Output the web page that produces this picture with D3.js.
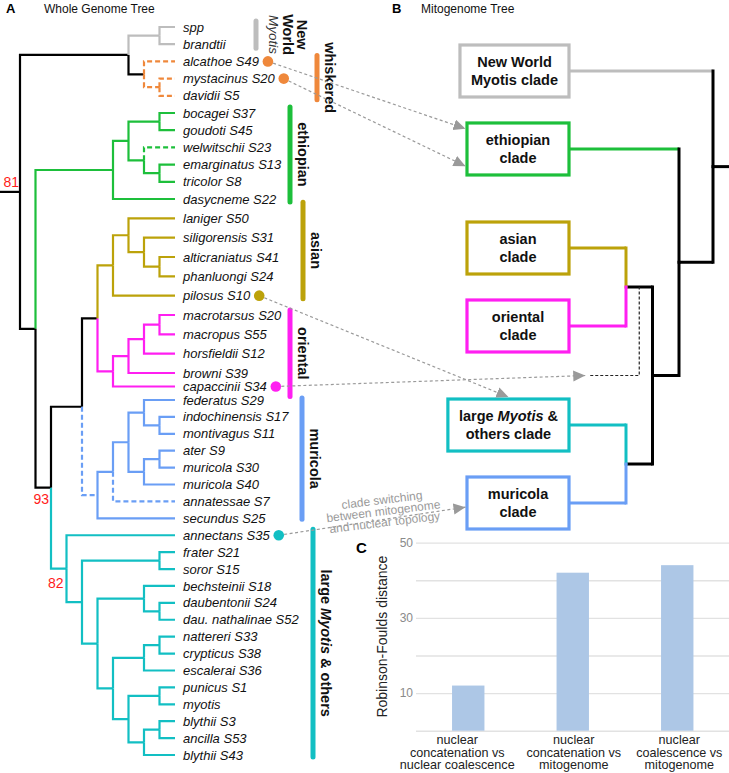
<!DOCTYPE html>
<html><head><meta charset="utf-8">
<script src="https://cdn.jsdelivr.net/npm/d3@7"></script>
<style>
html,body{margin:0;padding:0;background:#fff;}
svg{display:block;font-family:"Liberation Sans",Arial,Helvetica,sans-serif;}
</style></head><body>
<svg id="chart" width="729" height="773"></svg>
<script>
// ================= DATA =================
// Panel A: whole genome tree topology (internal labels mark clades / named nodes)
const wholeGenomeNewick =
 "(((spp,brandtii)NW,(alcathoe S49,(mystacinus S20,davidii S5))whiskered)nwwh," +
 "((((bocagei S37,goudoti S45),(welwitschii S23,(emarginatus S13,tricolor S8))),dasycneme S22)ethiopian," +
 "(((((laniger S50,(siligorensis S31,(alticraniatus S41,phanluongi S24))),pilosus S10)asian," +
 "((((macrotarsus S20,macropus S55),horsfieldii S12),browni S39),capaccinii S34)oriental)asor," +
 "((((federatus S29,(indochinensis S17,montivagus S11)),((ater S9,muricola S30),muricola S40)),annatessae S7),secundus S25)muricola)amo," +
 "(annectans S35,((frater S21,soror S15),((bechsteinii S18,(daubentonii S24,dau. nathalinae S52))," +
 "(((nattereri S33,crypticus S38),escalerai S36),((punicus S1,myotis),((blythii S3,ancilla S53),blythii S43))))))large)core)rest)root;";

const cladeNames   = ["NW","whiskered","ethiopian","asian","oriental","muricola","large"];
const cladeLabels  = [["New","World","*Myotis*"],["whiskered"],["ethiopian"],["asian"],["oriental"],["muricola"],["large *Myotis* & others"]];
const blackStems    = ["whiskered"];
const dashedSubtrees = ["whiskered"];
const dashedLinks    = ["welwitschii S23","muricola","annatessae S7"];
const supportNodes  = ["root","core","large"];
const supportValues = [81, 93, 82];

// Panel B: mitogenome tree
const mitoNewick = "(NW,(ethiopian,((asian,oriental)asor,(large,muricola)lm)core)rest)root;";
const mitoBoxLabels = {
  NW:["New World","Myotis clade"], ethiopian:["ethiopian","clade"], asian:["asian","clade"],
  oriental:["oriental","clade"], large:["large *Myotis* &","others clade"], muricola:["muricola","clade"]
};
const switchFrom = ["alcathoe S49","mystacinus S20","pilosus S10","capaccinii S34","annectans S35"];
const switchTo   = ["ethiopian","ethiopian","large","asor","muricola"];
const switchNote = ["clade switching","between mitogenome","and nuclear topology"];

// Panel C: Robinson-Foulds distances
const rfCategories = [["nuclear","concatenation vs","nuclear coalescence"],
                      ["nuclear","concatenation vs","mitogenome"],
                      ["nuclear","coalescence vs","mitogenome"]];
const rfValues = [12, 42, 44];
const rfGrid   = [0,10,20,30,40,50];
const rfTickLabels = [10,30,50];

// ================= STYLE / LAYOUT =================
const cladeColor = {NW:"#bdbdbd", whiskered:"#ef883b", ethiopian:"#1dbf3b", asian:"#bca20a",
  oriental:"#ff1ff1", muricola:"#6a9ef5", large:"#12bfc3"};
const barX   = {NW:256, whiskered:317, ethiopian:290, asian:303, oriental:290, muricola:302, large:313};
const barPad = {NW:[6,4], whiskered:[6,4], ethiopian:[6,3], asian:[16,3], oriental:[5,10], muricola:[2,1], large:[6,2]};
const labelOff = {NW:32};
const switchAt = [["left",0.11],["left",0.83],["top",0.5],["stem",0],["left",0.58]];
const supportOff = [[-1,-5],[-2,16],[-3,19]];
const rfLabelDx = [-11, 1, 2];

// ================= HELPERS =================
function parseNewick(s){
  let i=0;
  function node(){
    const n={name:""};
    if(s[i]==='('){
      n.children=[]; i++;
      n.children.push(node());
      while(s[i]===','){ i++; n.children.push(node()); }
      i++;
    }
    const st=i;
    while(i<s.length && !",();".includes(s[i])) i++;
    n.name=s.slice(st,i).trim();
    return n;
  }
  return node();
}
function richText(sel, str){
  str.split("*").forEach((part,k)=>{
    if(!part) return;
    sel.append("tspan").attr("font-style", k%2 ? "italic" : null).text(part);
  });
}

const svg = d3.select("#chart");
const defs = svg.append("defs");
defs.append("marker").attr("id","ahead").attr("markerUnits","userSpaceOnUse")
  .attr("markerWidth",13).attr("markerHeight",12).attr("refX",12).attr("refY",5.5).attr("orient","auto")
  .append("path").attr("d","M0,0L12,5.5L0,11Z").attr("fill","#9a9a9a");

// ================= PANEL A =================
const rootA = d3.hierarchy(parseNewick(wholeGenomeNewick), d=>d.children);
const leavesA = rootA.leaves();
const yLeafA = d3.scaleLinear().domain([0,10,19,21,42]).range([27,199,373,400,755]);
const xHeightA = d3.scaleLinear().domain([0,10]).range([175,20]);
leavesA.forEach((d,i)=>{ d.py = yLeafA(i); });
rootA.eachAfter(d=>{
  d.px = xHeightA(d.height);
  if(d.children) d.py = (d.children[0].py + d.children[d.children.length-1].py)/2;
});
const byName = new Map(); rootA.each(d=>byName.set(d.data.name,d));

function cladeOf(d){ for(let n=d;n;n=n.parent){ if(cladeColor[n.data.name]) return n.data.name; } return null; }
function linkColor(d){ if(blackStems.includes(d.data.name)) return "#000"; const c=cladeOf(d); return c?cladeColor[c]:"#000"; }
function linkDashed(d){
  if(dashedLinks.includes(d.data.name)) return true;
  return d.ancestors().slice(1).some(a=>dashedSubtrees.includes(a.data.name));
}

svg.append("text").attr("x",6).attr("y",13).attr("font-weight","bold").attr("font-size",13).text("A");
svg.append("text").attr("x",44).attr("y",13).attr("font-size",12).attr("fill","#111").text("Whole Genome Tree");

const gA = svg.append("g");
const linksA = rootA.descendants().slice(1);
gA.selectAll("path.link").data(linksA).join("path").attr("class","link")
  .attr("d",d=>`M${d.parent.px},${d.parent.py}V${d.py}H${d.px}`)
  .attr("fill","none").attr("stroke",linkColor).attr("stroke-width",2.2)
  .attr("stroke-dasharray",d=>linkDashed(d)?"5,3":null);
gA.append("line").attr("x1",0).attr("x2",rootA.px).attr("y1",rootA.py).attr("y2",rootA.py)
  .attr("stroke","#000").attr("stroke-width",2.2);

const leafText = gA.selectAll("text.leaf").data(leavesA).join("text").attr("class","leaf")
  .attr("x",183).attr("y",d=>d.py).attr("dy","0.35em").attr("font-size",13)
  .attr("font-style","italic").attr("fill","#111").text(d=>d.data.name);
leafText.each(function(d){ d.labelEnd = 183 + this.getComputedTextLength(); });

supportNodes.forEach((n,i)=>{
  const d=byName.get(n);
  gA.append("text").attr("x",d.px+supportOff[i][0]).attr("y",d.py+supportOff[i][1])
    .attr("text-anchor","end").attr("font-size",14).attr("fill","#ff1a1a").text(supportValues[i]);
});

// clade bars + rotated labels
cladeNames.forEach((c,i)=>{
  const lv = byName.get(c).leaves();
  const y0 = lv[0].py - barPad[c][0], y1 = lv[lv.length-1].py + barPad[c][1];
  gA.append("line").attr("x1",barX[c]).attr("x2",barX[c]).attr("y1",y0).attr("y2",y1)
    .attr("stroke",cladeColor[c]).attr("stroke-width",5).attr("stroke-linecap","round");
  const cx = barX[c] + (labelOff[c]||13), cy=(y0+y1)/2;
  const lines = cladeLabels[i];
  lines.forEach((ln,k)=>{
    const t = gA.append("text").attr("transform",`translate(${cx},${cy}) rotate(90)`)
      .attr("text-anchor","middle").attr("y",(k-(lines.length-1)/2)*14.3).attr("dy","0.35em")
      .attr("font-size",14.5).attr("font-weight","bold").attr("fill","#111");
    if(ln.startsWith("*") && lines.length>1){
      t.attr("font-weight","normal").attr("font-style","italic").attr("font-size",13.5).attr("fill","#333").text(ln.replace(/\*/g,""));
    } else richText(t, ln);
  });
});

// ================= PANEL B =================
svg.append("text").attr("x",392).attr("y",13).attr("font-weight","bold").attr("font-size",13).text("B");
svg.append("text").attr("x",421).attr("y",13).attr("font-size",12).attr("fill","#111").text("Mitogenome Tree");

const rootB = d3.hierarchy(parseNewick(mitoNewick), d=>d.children);
const leavesB = rootB.leaves();
const pairGap = 0.27;
const slotB = i => i + pairGap*Math.floor(i/2);
const yLeafB = d3.scaleLinear().domain([0, slotB(leavesB.length-1)]).range([71,503]);
const xHeightB = d3.scaleLinear().domain([0,1,3,4]).range([569,626,679,713]);
leavesB.forEach((d,i)=>{ d.py = yLeafB(slotB(i)); });
rootB.eachAfter(d=>{
  d.px = xHeightB(d.height);
  if(d.children) d.py = (d.children[0].py + d.children[d.children.length-1].py)/2;
});
const byNameB = new Map(); rootB.each(d=>byNameB.set(d.data.name,d));

const gB = svg.append("g");
rootB.descendants().slice(1).forEach(d=>{
  const col = d.children ? "#000" : cladeColor[d.data.name];
  const vcol = d.parent.height===1 ? col : "#000";
  gB.append("path").attr("d",`M${d.px},${d.py}H${d.parent.px}`).attr("stroke",col).attr("stroke-width",3).attr("fill","none");
  gB.append("path").attr("d",`M${d.parent.px},${d.py}V${d.parent.py}`).attr("stroke",vcol).attr("stroke-width",3)
    .attr("stroke-linecap","square").attr("fill","none");
});
gB.append("line").attr("x1",rootB.px).attr("x2",729).attr("y1",rootB.py).attr("y2",rootB.py).attr("stroke","#000").attr("stroke-width",3);

const boxH = 52;
leavesB.forEach(d=>{
  const g = gB.append("g");
  const lines = mitoBoxLabels[d.data.name];
  const texts = lines.map((ln,k)=>{
    const t = g.append("text").attr("text-anchor","middle").attr("y",d.py+(k-0.5)*17.5).attr("dy","0.35em")
      .attr("font-size",14.5).attr("font-weight","bold").attr("fill","#111");
    richText(t, ln); return t;
  });
  const w = Math.max(102, d3.max(texts,t=>t.node().getComputedTextLength()) + 22);
  const x0 = d.px - w;
  d.box = {x:x0, y:d.py-boxH/2, w:w, h:boxH};
  g.insert("rect","text").attr("x",x0).attr("y",d.py-boxH/2).attr("width",w).attr("height",boxH)
    .attr("fill","#fff").attr("stroke",cladeColor[d.data.name]).attr("stroke-width",3.2);
  texts.forEach(t=>t.attr("x",x0+w/2));
});

// ================= SWITCH ARROWS =================
const gArr = svg.append("g");
switchFrom.forEach((f,i)=>{
  const src = byName.get(f);
  const sx = src.labelEnd + 9, sy = src.py;
  const tgt = byNameB.get(switchTo[i]);
  const [mode,pos] = switchAt[i];
  let tx,ty;
  if(mode==="left"){ tx = tgt.box.x-1.5; ty = tgt.box.y + pos*tgt.box.h; }
  else if(mode==="top"){ tx = tgt.box.x + pos*tgt.box.w; ty = tgt.box.y-2; }
  else {
    const mx = (tgt.px + tgt.parent.px)/2;
    tx = mx - 54; ty = tgt.parent.py;
    gArr.append("path").attr("d",`M${tx+5},${ty}H${mx}V${tgt.py}`).attr("fill","none")
      .attr("stroke","#222").attr("stroke-width",1.2).attr("stroke-dasharray","3,2");
  }
  gArr.append("line").attr("x1",sx).attr("y1",sy).attr("x2",tx).attr("y2",ty)
    .attr("stroke","#9a9a9a").attr("stroke-width",1.2).attr("stroke-dasharray","3,2.5")
    .attr("marker-end","url(#ahead)");
  gArr.append("circle").attr("cx",sx).attr("cy",sy).attr("r",5.3).attr("fill",cladeColor[cladeOf(src)]);
  if(i===switchFrom.length-1){
    const t=0.56, cx = sx+(tx-sx)*t, cy = sy+(ty-sy)*t - 8.5;
    const tt = gArr.append("text").attr("transform",`translate(${cx},${cy}) rotate(-7)`)
      .attr("text-anchor","middle").attr("font-size",12).attr("fill","#9a9a9a");
    switchNote.forEach((ln,k)=>tt.append("tspan").attr("x",0).attr("y",(k-1)*11.3).attr("dy","0.35em").text(ln));
  }
});

// ================= PANEL C =================
const gC = svg.append("g");
const xC = d3.scaleBand().domain(d3.range(rfValues.length)).range([416,729.5]).paddingInner(0.69).paddingOuter(0.345);
const yC = d3.scaleLinear().domain([0,50]).range([730.7,542.6]);
const axC = gC.append("g").attr("transform","translate(416,0)")
  .call(d3.axisLeft(yC).tickValues(rfGrid).tickSize(-313.5).tickPadding(3)
    .tickFormat(d=>rfTickLabels.includes(d)?d:""));
axC.select(".domain").remove();
axC.selectAll(".tick line").attr("stroke","#e2e2e2").attr("stroke-width",1.4);
axC.selectAll(".tick text").attr("fill","#8a8a8a").attr("font-size",12).attr("font-family",null);
gC.selectAll("rect.bar").data(rfValues).join("rect").attr("class","bar")
  .attr("x",(d,i)=>xC(i)).attr("width",xC.bandwidth())
  .attr("y",d=>yC(d)).attr("height",d=>yC(0)-yC(d)).attr("fill","#adc7e6");
rfCategories.forEach((lines,i)=>{
  const t = gC.append("text").attr("text-anchor","middle").attr("font-size",12.6).attr("fill","#222");
  lines.forEach((ln,k)=>t.append("tspan").attr("x",xC(i)+xC.bandwidth()/2+rfLabelDx[i]).attr("y",744+k*12.6).text(ln));
});
gC.append("text").attr("transform",`translate(382,${(yC(0)+yC(50))/2}) rotate(-90)`)
  .attr("text-anchor","middle").attr("dy","0.35em").attr("font-size",14).attr("fill","#222").text("Robinson-Foulds distance");
svg.append("text").attr("x",356).attr("y",553).attr("font-weight","bold").attr("font-size",15).text("C");
</script>
</body></html>
